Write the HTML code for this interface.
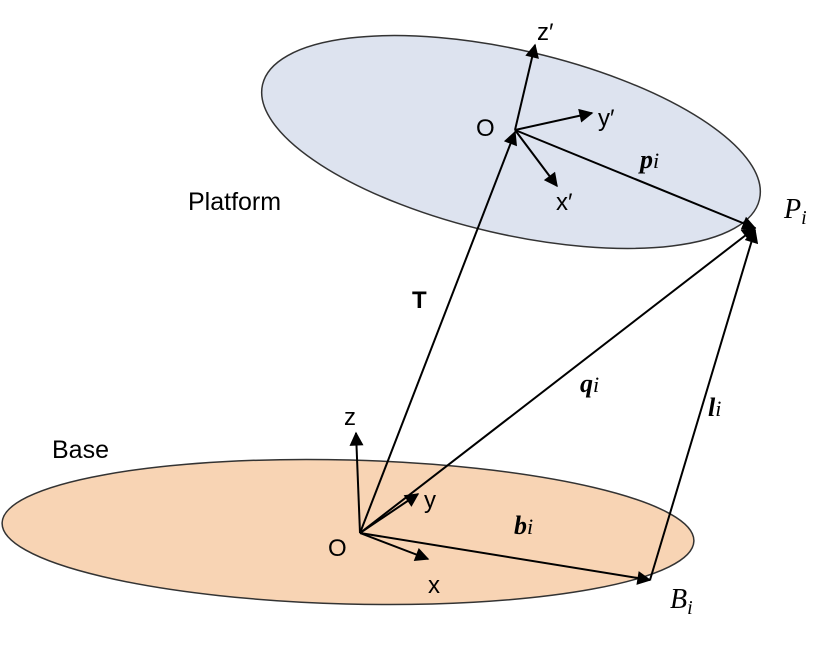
<!DOCTYPE html>
<html><head><meta charset="utf-8"><style>
html,body{margin:0;padding:0;background:#fff;}
svg{display:block;}
text{font-family:"Liberation Sans",sans-serif;fill:#000;}
.it{font-family:"Liberation Serif",serif;font-style:italic;}
.bi{font-family:"Liberation Serif",serif;font-style:italic;font-weight:bold;}
</style></head><body>
<svg width="832" height="650" viewBox="0 0 832 650">
<defs>
<marker id="ah" viewBox="0 0 10 10" refX="9" refY="5" markerWidth="7" markerHeight="7" orient="auto-start-reverse" markerUnits="userSpaceOnUse"><path d="M0,0 L10,5 L0,10 z" fill="#000"/></marker>
<marker id="ahb" viewBox="0 0 10 10" refX="9" refY="5" markerWidth="16" markerHeight="14" orient="auto" markerUnits="userSpaceOnUse"><path d="M0,0 L10,5 L0,10 z" fill="#000"/></marker>
</defs>
<ellipse cx="348" cy="532" rx="346" ry="72" transform="rotate(1.5 348 532)" fill="#f8d4b4" stroke="#333" stroke-width="1.5"/>
<ellipse cx="511" cy="142" rx="255" ry="92" transform="rotate(13 511 142)" fill="#dde3ef" stroke="#333" stroke-width="1.5"/>
<g stroke="#000" stroke-width="2" fill="none">
<line x1="360" y1="533" x2="515" y2="132" marker-end="url(#ahb)"/>
<line x1="360" y1="533" x2="755" y2="228" marker-end="url(#ahb)"/>
<line x1="650" y1="580" x2="755" y2="230" marker-end="url(#ahb)"/>
<line x1="360" y1="533" x2="650" y2="580" marker-end="url(#ahb)"/>
<line x1="515" y1="130" x2="755" y2="228" marker-end="url(#ahb)"/>
<line x1="515" y1="130" x2="535" y2="45" marker-end="url(#ahb)"/>
<line x1="515" y1="130" x2="592" y2="113" marker-end="url(#ahb)"/>
<line x1="515" y1="130" x2="557" y2="186" marker-end="url(#ahb)"/>
<line x1="360" y1="533" x2="356" y2="433" marker-end="url(#ahb)"/>
<line x1="360" y1="533" x2="418" y2="494" marker-end="url(#ahb)"/>
<line x1="360" y1="533" x2="428" y2="559" marker-end="url(#ahb)"/>
</g>
<text x="537" y="40" font-size="24">z′</text>
<text x="598" y="126" font-size="24">y′</text>
<text x="556" y="210" font-size="24">x′</text>
<text x="476" y="136" font-size="24">O</text>
<text x="640" y="168" font-size="26"><tspan class="bi">p</tspan><tspan class="it" font-size="22">i</tspan></text>
<text x="784" y="218" font-size="28" class="it">P<tspan font-size="20" dy="6">i</tspan></text>
<text x="188" y="210" font-size="25">Platform</text>
<text x="412" y="308" font-size="24" font-weight="bold">T</text>
<text x="580" y="392" font-size="26"><tspan class="bi">q</tspan><tspan class="it" font-size="22">i</tspan></text>
<text x="708" y="416" font-size="26"><tspan class="bi">l</tspan><tspan class="it" font-size="22">i</tspan></text>
<text x="344" y="425" font-size="24">z</text>
<text x="52" y="458" font-size="25">Base</text>
<text x="424" y="508" font-size="24">y</text>
<text x="328" y="556" font-size="24">O</text>
<text x="514" y="534" font-size="26"><tspan class="bi">b</tspan><tspan class="it" font-size="22">i</tspan></text>
<text x="428" y="593" font-size="24">x</text>
<text x="670" y="608" font-size="28" class="it">B<tspan font-size="20" dy="6">i</tspan></text>
</svg>
</body></html>
